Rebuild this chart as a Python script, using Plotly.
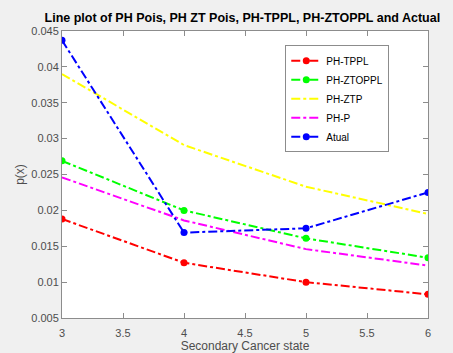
import plotly.graph_objects as go

states = [3, 4, 5, 6]
ph_tppl = [0.0188, 0.0127, 0.0100, 0.0083]
ph_ztoppl = [0.0269, 0.0200, 0.0161, 0.0134]
ph_ztp = [0.0390, 0.0291, 0.0233, 0.0195]
ph_p = [0.0246, 0.0186, 0.0146, 0.0123]
actual = [0.0437, 0.0169, 0.0175, 0.0225]

series = [
    ("PH-TPPL", ph_tppl, "#ff0000", True),
    ("PH-ZTOPPL", ph_ztoppl, "#00ff00", True),
    ("PH-ZTP", ph_ztp, "#ffff00", False),
    ("PH-P", ph_p, "#ff00ff", False),
    ("Atual", actual, "#0000ff", True),
]

fig = go.Figure()
for name, vals, color, mk in series:
    fig.add_trace(go.Scatter(
        x=states, y=vals, name=name,
        mode="lines+markers" if mk else "lines",
        line=dict(color=color, width=2, dash="dashdot"),
        marker=dict(color=color, size=7, symbol="circle"),
    ))

axis_common = dict(
    showgrid=False, zeroline=False, showline=True, linecolor="#8c8c8c",
    linewidth=1, mirror="ticks", ticks="inside", ticklen=5, tickcolor="#8c8c8c",
    tickfont=dict(family="Liberation Sans, Arial", size=11, color="#4d4d4d"),
)

fig.update_layout(
    width=453, height=353,
    paper_bgcolor="#f0f0f0", plot_bgcolor="#ffffff",
    margin=dict(l=62, r=25, t=31, b=35),
    title=dict(text="<b>Line plot of PH Pois, PH ZT Pois, PH-TPPL, PH-ZTOPPL and Actual</b>",
               x=0.535, xanchor="center", y=0.951, yanchor="middle",
               font=dict(family="Liberation Sans, Arial", size=12.5, color="#000000")),
    xaxis=dict(range=[3, 6], tickvals=[3, 3.5, 4, 4.5, 5, 5.5, 6],
               ticktext=["3", "3.5", "4", "4.5", "5", "5.5", "6"],
               ticklabelstandoff=5, automargin=False,
               title=dict(text="Secondary Cancer state", standoff=8,
                          font=dict(family="Liberation Sans, Arial", size=12, color="#4d4d4d")),
               **axis_common),
    yaxis=dict(range=[0.005, 0.045],
               tickvals=[0.005, 0.01, 0.015, 0.02, 0.025, 0.03, 0.035, 0.04, 0.045],
               ticktext=["0.005", "0.01", "0.015", "0.02", "0.025", "0.03", "0.035", "0.04", "0.045"],
               title=dict(text="p(x)", standoff=4,
                          font=dict(family="Liberation Sans, Arial", size=12, color="#4d4d4d")),
               **axis_common),
    legend=dict(x=0.61, y=0.95, xanchor="left", yanchor="top",
                bgcolor="#ffffff", bordercolor="#8c8c8c", borderwidth=1,
                font=dict(family="Liberation Sans, Arial", size=10, color="#000000"),
                tracegroupgap=0, itemwidth=30),
    showlegend=True,
)

fig.write_html("out.html")
